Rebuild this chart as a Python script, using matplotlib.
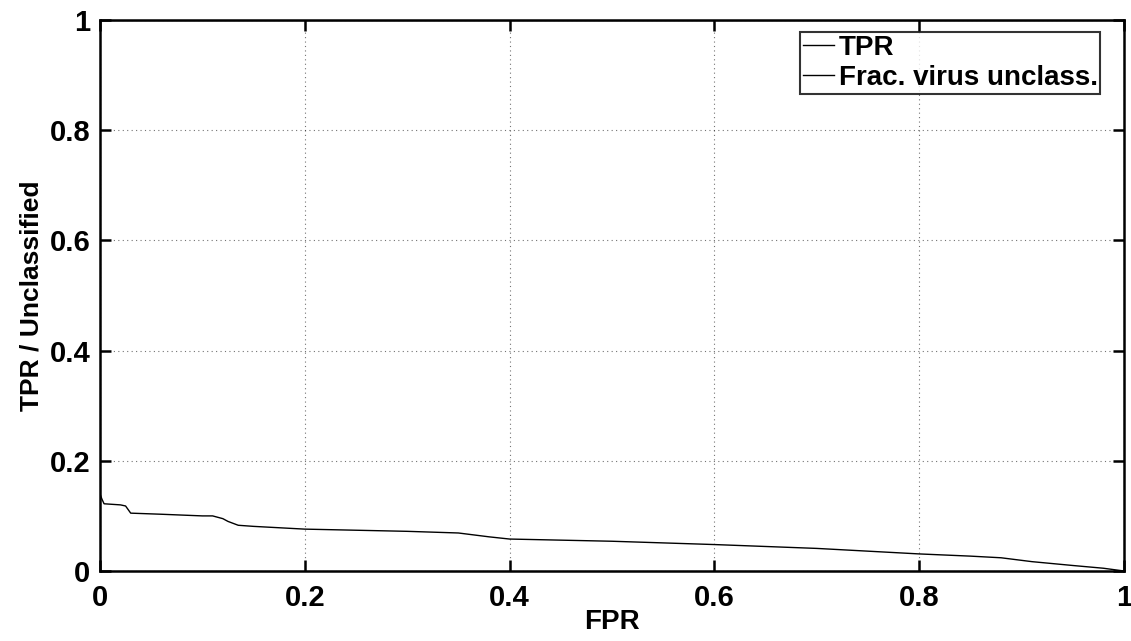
import matplotlib
matplotlib.use("Agg")
import matplotlib.pyplot as plt

# False-positive rate grid shared by both curves
fpr = [0.0, 0.002, 0.004, 0.02, 0.025, 0.03, 0.06, 0.10, 0.11, 0.12, 0.125,
       0.135, 0.15, 0.20, 0.25, 0.30, 0.35, 0.38, 0.40, 0.45, 0.50, 0.60,
       0.70, 0.75, 0.80, 0.85, 0.88, 0.91, 0.95, 0.98, 1.0]

# True-positive rate (saturated at 1)
tpr = [1.0] * len(fpr)

# Fraction of virus samples left unclassified
unclass = [0.14, 0.13, 0.122, 0.12, 0.118, 0.105, 0.103, 0.10, 0.10, 0.095,
           0.09, 0.083, 0.081, 0.076, 0.074, 0.072, 0.069, 0.062, 0.058,
           0.056, 0.054, 0.048, 0.041, 0.036, 0.031, 0.027, 0.024, 0.017,
           0.010, 0.005, 0.0]

ticks = [0, 0.2, 0.4, 0.6, 0.8, 1]
tick_labels = ["0", "0.2", "0.4", "0.6", "0.8", "1"]

plt.rcParams["font.family"] = ["Liberation Sans", "DejaVu Sans"]
plt.rcParams["font.weight"] = "bold"

fig = plt.figure(figsize=(11.31, 6.41), dpi=100)
ax = fig.add_axes([0.0884, 0.1092, 0.9054, 0.8596])

ax.plot(fpr, tpr, color="black", linewidth=1.0, label="TPR")
ax.plot(fpr, unclass, color="black", linewidth=1.0, label="Frac. virus unclass.")

ax.set_xlim(0, 1)
ax.set_ylim(0, 1)
ax.set_xticks(ticks)
ax.set_xticklabels(tick_labels)
ax.set_yticks(ticks)
ax.set_yticklabels(tick_labels)

ax.grid(True, color="black", linestyle=(0, (1, 3)), linewidth=0.8, alpha=0.55)

for side in ax.spines.values():
    side.set_linewidth(1.8)

ax.tick_params(direction="in", length=8, width=1.8, top=True, right=True,
               labelsize=21)
ax.tick_params(axis="x", pad=9)
ax.tick_params(axis="y", pad=7)
for lbl in ax.get_xticklabels() + ax.get_yticklabels():
    lbl.set_fontweight("bold")

ax.set_xlabel("FPR", fontsize=20, fontweight="bold", labelpad=-2)
ax.set_ylabel("TPR / Unclassified", fontsize=19, fontweight="bold", labelpad=4)

leg = ax.legend(loc="upper right", bbox_to_anchor=(0.977, 0.978),
                fontsize=20, frameon=True, fancybox=False, handlelength=1.15,
                handletextpad=0.15, borderpad=0.1, labelspacing=0.15,
                borderaxespad=0)
leg.get_frame().set_edgecolor("black")
leg.get_frame().set_linewidth(1.5)
for t in leg.get_texts():
    t.set_fontweight("bold")

fig.savefig("out.png", dpi=100)
